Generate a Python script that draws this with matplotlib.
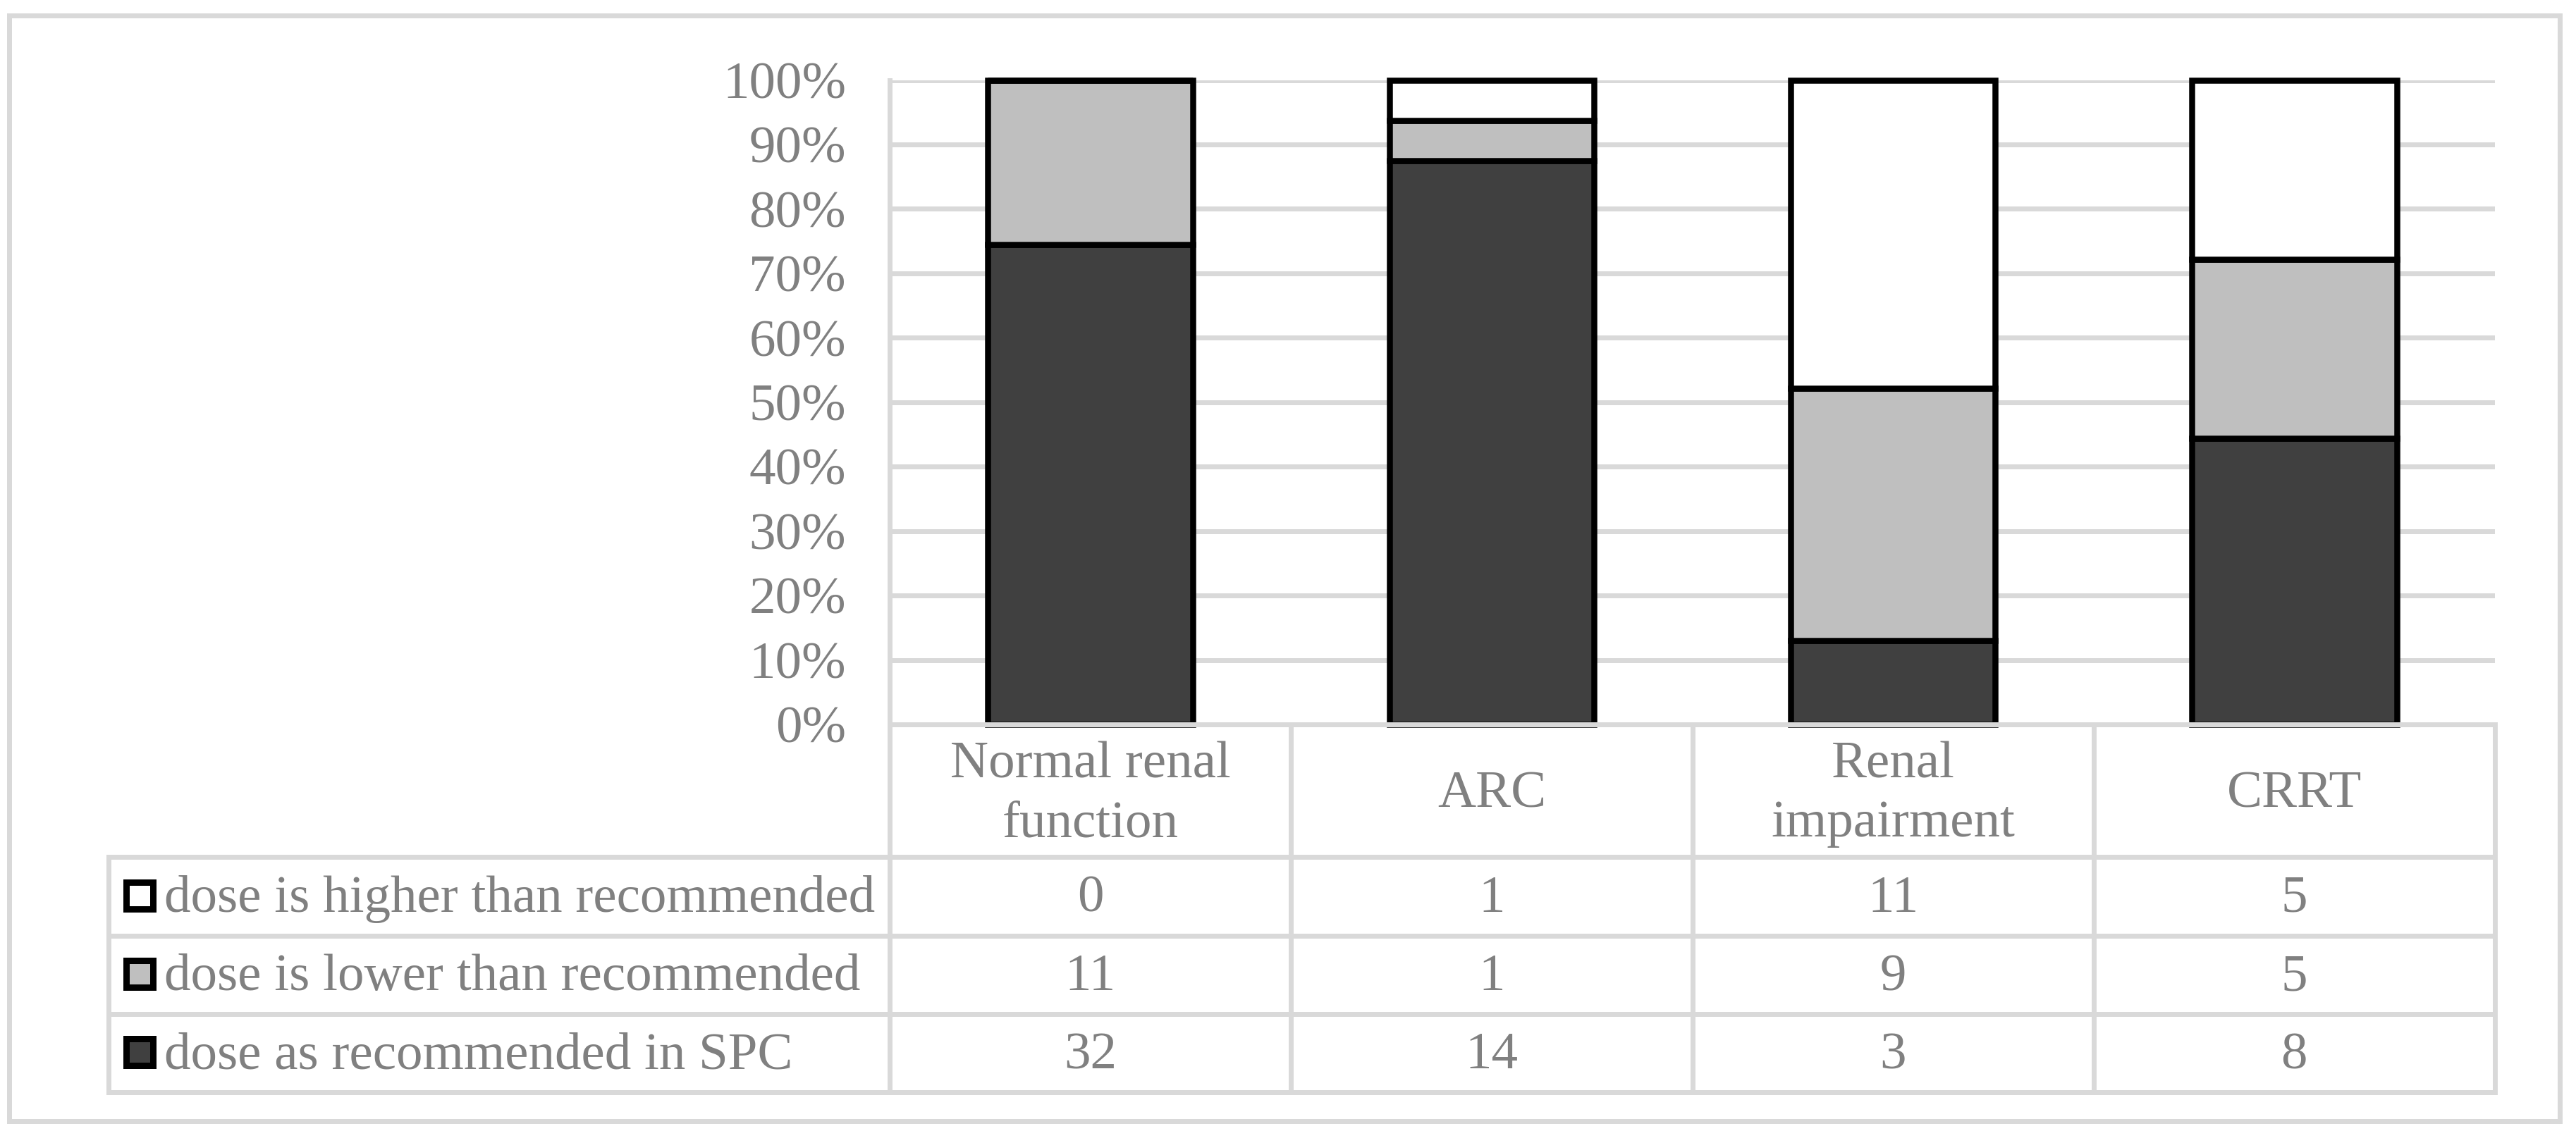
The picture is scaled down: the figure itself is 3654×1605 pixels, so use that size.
import matplotlib
matplotlib.use('Agg')
import matplotlib.pyplot as plt
from matplotlib import transforms
from matplotlib.patches import Rectangle
from matplotlib.ticker import PercentFormatter
import numpy as np

plt.rcParams['font.family'] = ['Liberation Serif', 'DejaVu Serif']

# data
categories = ['Normal renal\nfunction', 'ARC', 'Renal\nimpairment', 'CRRT']
series_names = ['dose is higher than recommended',
                'dose is lower than recommended',
                'dose as recommended in SPC']
higher = [0, 1, 11, 5]
lower = [11, 1, 9, 5]
as_spc = [32, 14, 3, 8]
series_colors = ['#ffffff', '#bfbfbf', '#404040']
y_ticks = np.arange(0, 1.01, 0.1)

W, H = 3655, 1605
DPI = 100
PX = 72 / DPI  # points per pixel
TEXT = '#808080'
LINE = '#d9d9d9'
FS = 54

# layout, in pixels of the output picture
plot_l, plot_r, plot_t, plot_b = 1262, 3539, 113.5, 1028
table_l = 154.5
row_lines = [1216, 1327.5, 1438.5, 1550]
header_mid = 1145
line_step = 84

fig = plt.figure(figsize=(W / DPI, H / DPI), dpi=DPI)
ax = fig.add_axes([plot_l / W, 1 - plot_b / H, (plot_r - plot_l) / W, (plot_b - plot_t) / H])
over = fig.add_axes([0, 0, 1, 1], zorder=3)
over.set_xlim(0, W)
over.set_ylim(H, 0)
over.axis('off')
over.patch.set_visible(False)

# stacked 100% bars
counts = np.array([as_spc, lower, higher], dtype=float)
share = counts / counts.sum(axis=0)
x = np.arange(len(categories))
bottom = np.zeros(len(categories))
for vals, color in zip(share, series_colors[::-1]):
    ax.bar(x, vals, 0.51, bottom=bottom, color=color, edgecolor='black',
           linewidth=8.5 * PX, zorder=2, clip_on=False)
    bottom += vals

ax.set_xlim(-0.5, len(categories) - 0.5)
ax.set_ylim(0, 1)
ax.set_yticks(y_ticks)
ax.yaxis.set_major_formatter(PercentFormatter(1.0, decimals=0))
ax.tick_params(axis='y', length=0, pad=62 * PX, labelsize=FS, labelcolor=TEXT)
ax.set_xticks([])
ax.set_axisbelow(True)
ax.grid(axis='y', color=LINE, linewidth=7 * PX)
for side in ['top', 'right', 'bottom']:
    ax.spines[side].set_visible(False)
ax.spines['left'].set_color(LINE)
ax.spines['left'].set_linewidth(7 * PX)

# data table under the chart
trans = transforms.blended_transform_factory(ax.transData, over.transData)
lw = 7 * PX
for b in np.arange(len(categories) + 1) - 0.5:
    over.plot([b, b], [plot_b, row_lines[-1]], color=LINE, lw=lw, transform=trans,
              solid_capstyle='projecting', clip_on=False)
over.plot([plot_l, plot_r], [plot_b, plot_b], color=LINE, lw=lw,
          solid_capstyle='projecting', clip_on=False)
for y in row_lines:
    over.plot([table_l, plot_r], [y, y], color=LINE, lw=lw,
              solid_capstyle='projecting', clip_on=False)
over.plot([table_l, table_l], [row_lines[0], row_lines[-1]], color=LINE, lw=lw,
          solid_capstyle='projecting', clip_on=False)

for i, label in enumerate(categories):
    lines = label.split('\n')
    n = len(lines)
    for j, line in enumerate(lines):
        yb = header_mid + (j - (n - 1) / 2) * line_step
        over.text(i, yb, line, transform=trans, ha='center', va='baseline',
                  fontsize=FS, color=TEXT)

rows = [higher, lower, as_spc]
for k, (name, vals, color) in enumerate(zip(series_names, rows, series_colors)):
    yc = (row_lines[k] + row_lines[k + 1]) / 2
    over.add_patch(Rectangle((179.5, yc - 20), 38, 38, facecolor=color,
                             edgecolor='black', linewidth=9 * PX))
    over.text(233, yc + 22, name, ha='left', va='baseline', fontsize=FS, color=TEXT)
    for i, v in enumerate(vals):
        over.text(i, yc + 22, str(v), transform=trans, ha='center', va='baseline',
                  fontsize=FS, color=TEXT)

# outer chart border
over.add_patch(Rectangle((13, 21.5), 3618, 1569.5, fill=False, edgecolor=LINE,
                         linewidth=7 * PX))

fig.savefig('out.png', dpi=DPI)
